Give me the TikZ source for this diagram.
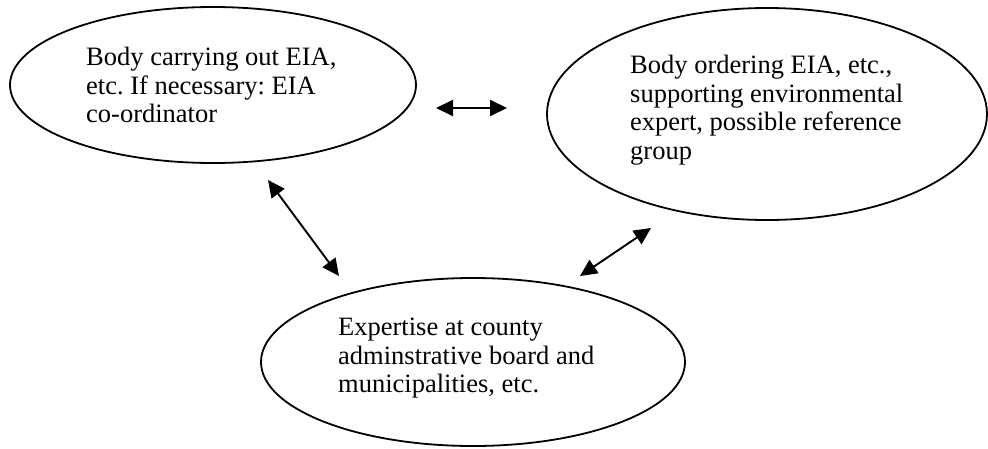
\documentclass[tikz,border=0pt]{standalone}
\usepackage{fontspec}
\setmainfont{Liberation Serif}
\usetikzlibrary{arrows.meta,shapes.geometric}
\frenchspacing
\begin{document}
\begin{tikzpicture}[x=1pt,y=-1pt,
  blob/.style={draw, ellipse, line width=1.8pt, inner sep=0pt},
  caption/.style={anchor=north west, inner sep=0pt, align=left,
    font=\fontsize{26.5}{28.5}\selectfont},
  link/.style={line width=1.9pt,
    {Triangle[length=17pt,width=16pt]}-{Triangle[length=17pt,width=16pt]}}]
\useasboundingbox (0,0) rectangle (988,448);

% the three parties
\node[blob, minimum width=406pt, minimum height=156pt] (executor) at (213,85) {};
\node[blob, minimum width=440pt, minimum height=212pt] (orderer) at (767,114) {};
\node[blob, minimum width=424pt, minimum height=168pt] (county) at (473,362) {};

\node[caption] (executortext) at (86,47)
  {Body carrying out EIA,\\etc. If necessary: EIA\\co-ordinator};
\node[caption] (orderertext) at (630,55)
  {Body ordering EIA, etc.,\\supporting environmental\\expert, possible reference\\group};
\node[caption] (countytext) at (338,318)
  {Expertise at county\\adminstrative board and\\municipalities, etc.};

% free-standing two-way arrows between the ellipses
\coordinate (a1) at (436,108);
\coordinate (a2) at (507,108);
\coordinate (b1) at (268,180);
\coordinate (b2) at (339,276);
\coordinate (c1) at (580,276);
\coordinate (c2) at (651,228);

\draw[link] (a1) -- (a2);
\draw[link] (b1) -- (b2);
\draw[link] (c1) -- (c2);
\end{tikzpicture}
\end{document}
